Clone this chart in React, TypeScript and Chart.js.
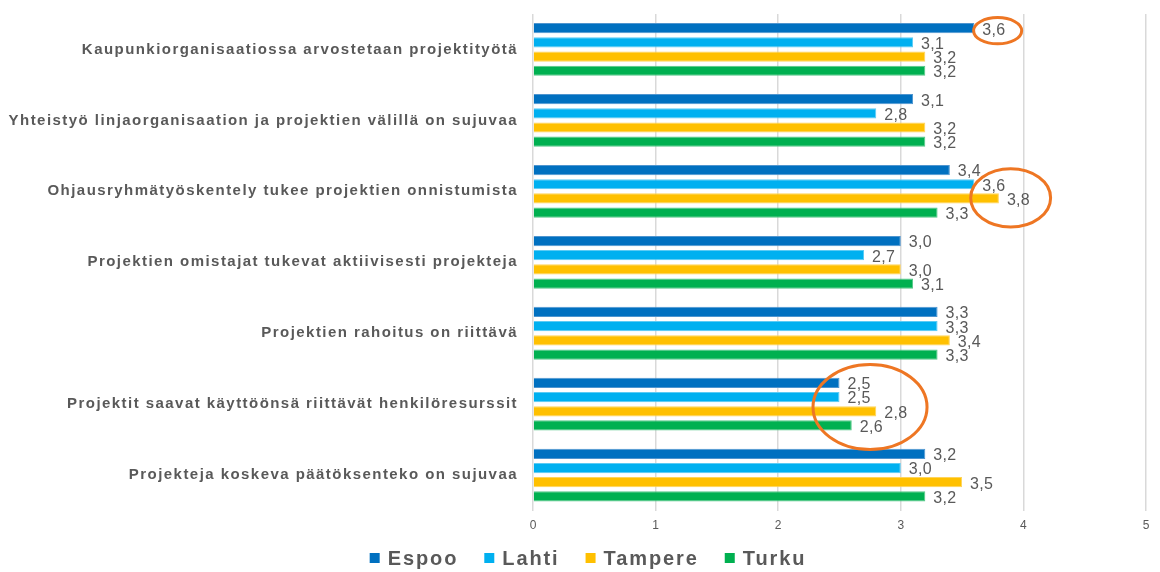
import { useEffect, useRef } from 'react';
import { Chart, registerables } from 'chart.js';

Chart.register(...registerables);

const categories = [
  'Kaupunkiorganisaatiossa arvostetaan projektityötä',
  'Yhteistyö linjaorganisaation ja projektien välillä on sujuvaa',
  'Ohjausryhmätyöskentely tukee projektien onnistumista',
  'Projektien omistajat tukevat aktiivisesti projekteja',
  'Projektien rahoitus on riittävä',
  'Projektit saavat käyttöönsä riittävät henkilöresurssit',
  'Projekteja koskeva päätöksenteko on sujuvaa',
];

const seriesNames = ['Espoo', 'Lahti', 'Tampere', 'Turku'];
const espoo = [3.6, 3.1, 3.4, 3.0, 3.3, 2.5, 3.2];
const lahti = [3.1, 2.8, 3.6, 2.7, 3.3, 2.5, 3.0];
const tampere = [3.2, 3.2, 3.8, 3.0, 3.4, 2.8, 3.5];
const turku = [3.2, 3.2, 3.3, 3.1, 3.3, 2.6, 3.2];

const xTickValues = [0, 1, 2, 3, 4, 5];

// Rings drawn around notable results: centre in value / category units
const highlights = [
  { category: 0, value: 3.79, offset: -0.264, valueRadius: 0.196, categoryRadius: 0.185 },
  { category: 2, value: 3.896, offset: 0.092, valueRadius: 0.326, categoryRadius: 0.41 },
  { category: 5, value: 2.749, offset: 0.04, valueRadius: 0.465, categoryRadius: 0.6 },
];

const fills = ['#0070C0', '#00B0F0', '#FFC000', '#00B050'];
const edges = ['#4F95CF', '#5CCBF4', '#FFD45A', '#55C787'];
const TEXT = '#595959';
const RING = '#EE7623';
const FONT = '"Liberation Sans", Arial, sans-serif';

const formatValue = (v: number) => v.toFixed(1).replace('.', ',');

const overlayPlugin = {
  id: 'overlay',
  afterDatasetsDraw(chart: any) {
    const { ctx, chartArea, scales } = chart;
    const xs = scales.x;
    const ys = scales.y;
    ctx.save();

    // category labels
    ctx.font = `bold 15px ${FONT}`;
    ctx.fillStyle = TEXT;
    ctx.textAlign = 'right';
    ctx.textBaseline = 'middle';
    (ctx as any).letterSpacing = '1.45px';
    categories.forEach((c, i) => {
      ctx.fillText(c, chartArea.left - 15, ys.getPixelForValue(i));
    });

    // value labels
    ctx.font = `16px ${FONT}`;
    ctx.textAlign = 'left';
    (ctx as any).letterSpacing = '0.3px';
    chart.data.datasets.forEach((ds: any, d: number) => {
      const meta = chart.getDatasetMeta(d);
      meta.data.forEach((bar: any, i: number) => {
        ctx.fillText(formatValue(ds.data[i]), bar.x + 8, bar.y + 2);
      });
    });

    // highlight rings
    const catStep = ys.getPixelForValue(1) - ys.getPixelForValue(0);
    const valStep = xs.getPixelForValue(1) - xs.getPixelForValue(0);
    ctx.strokeStyle = RING;
    ctx.lineWidth = 3;
    highlights.forEach((h) => {
      ctx.beginPath();
      ctx.ellipse(
        xs.getPixelForValue(h.value),
        ys.getPixelForValue(h.category + h.offset),
        h.valueRadius * valStep,
        h.categoryRadius * catStep,
        0,
        0,
        Math.PI * 2
      );
      ctx.stroke();
    });

    // legend
    ctx.font = `bold 20px ${FONT}`;
    (ctx as any).letterSpacing = '1.9px';
    ctx.textBaseline = 'middle';
    const box = 10;
    const gapBoxText = 8;
    const gapItems = 26;
    const widths = seriesNames.map((n) => ctx.measureText(n).width);
    const total = widths.reduce((a, w) => a + box + gapBoxText + w, 0) + gapItems * (seriesNames.length - 1);
    let lx = 588 - total / 2;
    const ly = 558;
    seriesNames.forEach((n, i) => {
      ctx.fillStyle = fills[i];
      ctx.fillRect(lx, ly - box / 2, box, box);
      lx += box + gapBoxText;
      ctx.fillStyle = TEXT;
      ctx.fillText(n, lx, ly + 1);
      lx += widths[i] + gapItems;
    });

    ctx.restore();
  },
};

export default function App() {
  const canvasRef = useRef<HTMLCanvasElement | null>(null);

  useEffect(() => {
    if (!canvasRef.current) return;
    const series = [espoo, lahti, tampere, turku];
    const chart = new Chart(canvasRef.current, {
      type: 'bar',
      data: {
        labels: categories,
        datasets: series.map((values, i) => ({
          label: seriesNames[i],
          data: values,
          backgroundColor: fills[i],
          borderColor: edges[i],
          borderWidth: 1,
          categoryPercentage: 0.8,
          barPercentage: 0.72,
        })),
      },
      options: {
        indexAxis: 'y',
        animation: false,
        responsive: true,
        maintainAspectRatio: false,
        layout: { padding: { left: 533, right: 14, top: 14, bottom: 31 } },
        plugins: {
          legend: { display: false },
          tooltip: { enabled: false },
        },
        scales: {
          x: {
            min: 0,
            max: 5,
            afterBuildTicks: (scale: any) => {
              scale.ticks = xTickValues.map((v) => ({ value: v }));
            },
            ticks: {
              color: TEXT,
              font: { family: FONT, size: 12 },
              padding: 8,
            },
            grid: { color: '#D9D9D9', lineWidth: 1.5, drawTicks: false },
            border: { display: false },
          },
          y: { display: false },
        },
      },
      plugins: [overlayPlugin],
    });
    return () => chart.destroy();
  }, []);

  return (
    <div style={{ position: 'fixed', left: 0, top: 0, width: 1160, height: 572, background: '#fff' }}>
      <canvas ref={canvasRef} />
    </div>
  );
}
